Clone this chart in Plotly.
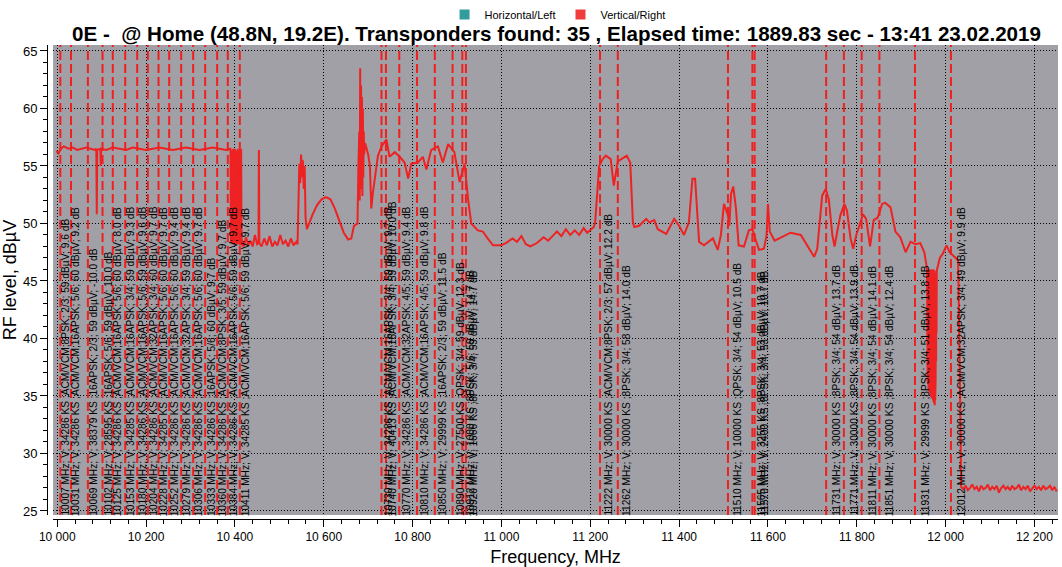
import plotly.graph_objects as go

FONT = "Liberation Sans"

# ---------------- spectrum (Vertical/Right) ----------------
flat_f = [9998, 10003, 10008, 10015, 10025, 10035, 10045, 10055, 10065, 10075, 10085, 10088, 10089, 10090,
          10097, 10098, 10099, 10110, 10125, 10140, 10155, 10170, 10185, 10200, 10215, 10230, 10245, 10260,
          10275, 10290, 10305, 10320, 10335, 10350, 10365, 10380, 10389]
flat_v = [56.3, 56.1, 56.5, 56.7, 56.5, 56.6, 56.4, 56.5, 56.6, 56.5, 56.4, 56.5, 50.8, 56.4,
          56.5, 55.0, 56.5, 56.4, 56.6, 56.5, 56.4, 56.6, 56.5, 56.4, 56.5, 56.6, 56.5, 56.4,
          56.5, 56.6, 56.5, 56.4, 56.5, 56.6, 56.5, 56.4, 56.5]

drop_f = [10390, 10391, 10392, 10393, 10394, 10395, 10396, 10397, 10398, 10399, 10400, 10401, 10402, 10403,
          10404, 10405, 10406, 10407, 10408, 10409, 10410, 10411, 10412, 10413, 10414, 10415, 10416, 10417, 10418]
drop_v = [56.5, 48.3, 56.4, 48.6, 55.5, 48.2, 56.5, 49.0, 54.0, 48.3, 56.5, 48.5, 56.3, 48.2,
          52.0, 48.7, 56.5, 48.2, 50.5, 48.4, 56.4, 48.1, 49.5, 48.3, 56.5, 48.1, 48.6, 48.0, 48.4]

low_f = [10420, 10425, 10430, 10435, 10440, 10445, 10450, 10453, 10454, 10455, 10460, 10466, 10472, 10478,
         10484, 10490, 10496, 10502, 10508, 10514, 10520, 10526, 10532, 10538, 10541]
low_v = [48.0, 48.8, 48.1, 48.5, 48.0, 49.0, 48.2, 48.3, 56.4, 48.3, 48.0, 48.7, 48.1, 48.9,
         48.0, 48.4, 48.1, 49.0, 48.2, 48.5, 48.0, 48.7, 48.1, 48.4, 48.2]

jump_f = [10543, 10545, 10547, 10549, 10551, 10553, 10555, 10557, 10559, 10562]
jump_v = [51.0, 55.2, 53.5, 56.0, 54.0, 55.5, 53.0, 55.0, 50.5, 49.5]

bump_f = [10565, 10575, 10585, 10595, 10605, 10615, 10625, 10635, 10645, 10655, 10662, 10668]
bump_v = [49.8, 50.8, 51.6, 52.1, 52.3, 52.1, 51.3, 50.2, 49.2, 48.6, 48.7, 49.8]

mid_f = [10676, 10678, 10680, 10681, 10682, 10683, 10684, 10685, 10686, 10687, 10688, 10689, 10690, 10691,
         10693, 10696, 10700, 10704, 10707, 10711, 10715, 10722, 10730, 10741, 10748, 10760, 10771, 10782,
         10790, 10797, 10812, 10823, 10831, 10842, 10857, 10868, 10880, 10894, 10906, 10917, 10925, 10932,
         10947, 10958, 10969, 10981, 10999]
mid_v = [50.0, 55.0, 58.0, 52.0, 63.5, 53.0, 62.0, 55.0, 61.0, 52.4, 60.0, 54.0, 58.0, 56.0,
         57.0, 56.5, 56.0, 55.0, 51.3, 52.8, 53.9, 55.9, 56.7, 57.3, 55.8, 56.2, 55.8, 55.3,
         53.9, 55.2, 55.3, 55.8, 54.7, 56.4, 56.7, 55.3, 56.9, 56.2, 53.6, 55.2, 52.1, 50.0,
         49.4, 49.3, 48.7, 48.1, 48.1]

gap_f = [11010, 11025, 11035, 11045, 11055, 11065, 11080, 11095, 11105, 11115, 11125, 11135, 11145, 11155,
         11165, 11175, 11185, 11193, 11208, 11211]
gap_v = [48.3, 48.7, 48.4, 48.9, 48.2, 48.0, 48.3, 48.8, 48.5, 48.9, 49.3, 48.9, 49.5, 49.0,
         49.4, 49.0, 49.6, 49.2, 49.7, 50.1]

ku_f = [11220, 11228, 11235, 11246, 11253, 11262, 11273, 11282, 11290, 11296, 11299, 11310, 11326, 11333,
        11344, 11352, 11371, 11389, 11400, 11411, 11422, 11430, 11436, 11445, 11456, 11476, 11487, 11494,
        11501, 11510, 11513, 11517, 11522, 11528, 11534, 11546, 11557, 11565, 11573, 11580, 11591, 11597,
        11600, 11604, 11615, 11630, 11651, 11674]
ku_v = [55.0, 55.6, 55.9, 55.6, 53.3, 55.4, 55.7, 55.9, 55.3, 50.1, 49.7, 49.8, 50.4, 50.1,
        50.3, 49.5, 49.1, 50.4, 49.8, 49.0, 50.1, 53.9, 53.9, 48.4, 48.1, 48.7, 47.7, 49.0,
        51.7, 50.7, 49.8, 52.6, 53.2, 51.3, 48.1, 48.0, 49.4, 49.5, 48.5, 47.7, 47.8, 49.0,
        51.7, 49.3, 48.5, 48.8, 49.2, 49.0]

hi_f = [11689, 11704, 11711, 11722, 11730, 11737, 11745, 11750, 11756, 11763, 11772, 11778, 11786, 11792,
        11799, 11806, 11814, 11821, 11830, 11838, 11847, 11857, 11864, 11876, 11887, 11898, 11910, 11921,
        11932, 11943, 11952]
hi_v = [48.0, 47.1, 47.8, 52.4, 53.0, 52.1, 49.0, 48.0, 49.3, 50.7, 51.7, 51.1, 48.7, 47.8,
        49.0, 49.8, 50.8, 50.4, 48.0, 50.3, 50.5, 51.7, 51.8, 51.4, 49.3, 48.8, 47.5, 48.4,
        48.2, 48.3, 47.5]

band_f = [11958.0, 11958.5, 11959.0, 11959.5, 11960.0, 11960.5, 11961.0, 11961.5, 11962.0, 11962.5,
          11963.0, 11963.5, 11964.0, 11964.5, 11965.0, 11965.5, 11966.0, 11966.5, 11967.0, 11967.5,
          11968.0, 11968.5, 11969.0, 11969.5, 11970.0, 11970.5, 11971.0, 11971.5, 11972.0, 11972.5,
          11973.0, 11973.5, 11974.0, 11974.5, 11975.0, 11975.5, 11976.0, 11976.5, 11977.0, 11977.5,
          11978.0, 11978.5, 11979.0, 11979.5, 11980.0]
band_v = [46.1, 37.0, 45.9, 36.2, 46.0, 35.8, 45.8, 35.5, 45.9, 35.6,
          46.0, 35.3, 45.8, 35.4, 45.9, 35.1, 46.0, 35.2, 45.8, 34.9,
          45.9, 35.0, 46.0, 34.8, 45.9, 34.9, 45.8, 34.6, 45.9, 34.7,
          46.0, 34.4, 45.8, 34.5, 45.9, 34.2, 45.7, 34.6, 44.0, 36.5,
          42.0, 38.0, 44.5, 40.5, 45.9]

tail_f = [11987, 11994, 12002, 12009, 12020, 12028, 12031, 12033,
          12035, 12040, 12045, 12050, 12055, 12060, 12065, 12070, 12075, 12080, 12085, 12090, 12095, 12100,
          12105, 12110, 12115, 12120, 12125, 12130, 12135, 12140, 12145, 12150, 12155, 12160, 12165, 12170,
          12175, 12180, 12185, 12190, 12195, 12200, 12205, 12210, 12215, 12220, 12225, 12230, 12235, 12240,
          12245, 12250]
tail_v = [47.0, 47.4, 48.1, 47.5, 47.1, 46.8, 40.0, 30.0,
          27.1, 26.9, 27.2, 26.8, 27.0, 27.3, 26.9, 27.1, 26.7, 27.2, 26.9, 27.0, 27.3, 26.8,
          27.1, 26.9, 27.2, 26.6, 27.0, 27.2, 26.9, 27.1, 26.8, 27.2, 26.9, 27.0, 27.3, 26.8,
          27.1, 26.9, 27.2, 26.7, 27.0, 27.2, 26.9, 27.1, 26.8, 27.2, 26.9, 27.0, 27.2, 26.8,
          27.1, 26.7]

freq = flat_f + drop_f + low_f + jump_f + bump_f + mid_f + gap_f + ku_f + hi_f + band_f + tail_f
level = flat_v + drop_v + low_v + jump_v + bump_v + mid_v + gap_v + ku_v + hi_v + band_v + tail_v

# ---------------- transponders ----------------
tp_freq = [10007, 10031, 10069, 10102, 10125, 10153, 10180, 10204, 10228, 10252, 10279, 10306, 10333,
           10360, 10384, 10411, 10730, 10740, 10770, 10810, 10850, 10890, 10912, 10920, 11222, 11262,
           11510, 11565, 11570, 11731, 11771, 11811, 11851, 11931, 12012]
tp_info = [
    "V; 34286 KS ;ACM/VCM;8PSK; 2/3; 59 dBµV; 9.6 dB",
    "V; 34286 KS ;ACM/VCM;16APSK; 5/6; 60 dBµV; 9.2 dB",
    "V; 38379 KS ;16APSK; 2/3; 59 dBµV; -10.0 dB",
    "V; 28595 KS ;16APSK; 5/6; 59 dBµV; 10.0 dB",
    "V; 34286 KS ;ACM/VCM;16APSK; 5/6; 60 dBµV; 8.0 dB",
    "V; 34285 KS ;ACM/VCM;16APSK; 3/4; 59 dBµV; 9.3 dB",
    "V; 34286 KS ;ACM/VCM;16APSK; 5/6; 59 dBµV; 9.6 dB",
    "V; 34286 KS ;ACM/VCM;32APSK; 3/4; 60 dBµV; 9.7 dB",
    "V; 34285 KS ;ACM/VCM;16APSK; 5/6; 60 dBµV; 9.7 dB",
    "V; 34286 KS ;ACM/VCM;16APSK; 5/6; 60 dBµV; 9.4 dB",
    "V; 34286 KS ;ACM/VCM;32APSK; 3/4; 59 dBµV; 9.4 dB",
    "V; 34286 KS ;ACM/VCM;16APSK; 5/6; 60 dBµV; 9.7 dB",
    "V; 34286 KS ;16APSK; 5/6; 60 dBµV; 9.7 dB",
    "V; 34286 KS ;ACM/VCM;8PSK; 3/5; 59 dBµV; 9.7 dB",
    "V; 34286 KS ;ACM/VCM;16APSK; 5/6; 59 dBµV; 9.7 dB",
    "V; 34285 KS ;ACM/VCM;16APSK; 5/6; 59 dBµV; 9.7 dB",
    "V; 34286 KS ;ACM/VCM;16APSK; 3/4; 59 dBµV; 9.7 dB",
    "V; 40413 KS ;ACM/VCM;16APSK; 3/4; 59 dBµV; 10.0 dB",
    "V; 34286 KS ;ACM/VCM;32APSK; 4/5; 59 dBµV; 9.4 dB",
    "V; 34286 KS ;ACM/VCM;16APSK; 4/5; 59 dBµV; 9.8 dB",
    "V; 29999 KS ;16APSK; 2/3; 59 dBµV; 11.5 dB",
    "V; 27500 KS ;QPSK; 3/4; 59 dBµV; 12.3 dB",
    "V; 1000 KS ;8PSK; 5/6; 59 dBµV; 14.7 dB",
    "V; 1666 KS ;8PSK; 3/4; 59 dBµV; 14.7 dB",
    "V; 30000 KS ;ACM/VCM;8PSK; 2/3; 57 dBµV; 12.2 dB",
    "V; 30000 KS ;8PSK; 3/4; 58 dBµV; 14.0 dB",
    "V; 10000 KS ;QPSK; 3/4; 54 dBµV; 10.5 dB",
    "V; 3255 KS ;8PSK; 3/4; 53 dBµV; 10.7 dB",
    "V; 2400 KS ;8PSK; 3/4; 53 dBµV; 10.7 dB",
    "V; 30000 KS ;8PSK; 3/4; 54 dBµV; 13.7 dB",
    "V; 30000 KS ;8PSK; 3/4; 54 dBµV; 13.9 dB",
    "V; 30000 KS ;8PSK; 3/4; 54 dBµV; 14.1 dB",
    "V; 30000 KS ;8PSK; 3/4; 54 dBµV; 12.4 dB",
    "V; 29999 KS ;8PSK; 3/4; 51 dBµV; 13.8 dB",
    "V; 30000 KS ;ACM/VCM;32APSK; 3/4; 49 dBµV; 9.9 dB",
]

x_ticks = [10000, 10200, 10400, 10600, 10800, 11000, 11200, 11400, 11600, 11800, 12000, 12200]
y_ticks = [25, 30, 35, 40, 45, 50, 55, 60, 65]

TITLE = "0E -  @ Home (48.8N, 19.2E). Transponders found: 35 , Elapsed time: 1889.83 sec - 13:41 23.02.2019"

RED = "#ee2222"
fig = go.Figure()
fig.add_trace(go.Scatter(x=freq, y=level, mode="lines", line=dict(color=RED, width=2),
                         showlegend=False, hoverinfo="skip"))
fig.add_trace(go.Scatter(x=[None], y=[None], mode="markers", name="Horizontal/Left",
                         marker=dict(symbol="square", size=10, color="#339c9c")))
fig.add_trace(go.Scatter(x=[None], y=[None], mode="markers", name="Vertical/Right",
                         marker=dict(symbol="square", size=10, color="#f03c3c")))

for f, info in zip(tp_freq, tp_info):
    fig.add_shape(type="line", xref="x", yref="y domain", x0=f, x1=f, y0=0, y1=1,
                  line=dict(color="#f02020", width=2, dash="9px,4px"))
    fig.add_annotation(x=f, y=0, xref="x", yref="y domain", text=f"{f} MHz; {info}",
                       textangle=-90, showarrow=False, xanchor="center", yanchor="bottom",
                       xshift=4.7 + (f - 10007) * 0.0031, yshift=-3,
                       font=dict(family=FONT, size=10.2, color="black"))

fig.update_layout(
    width=1062, height=567,
    margin=dict(l=45, r=4, t=45, b=45),
    paper_bgcolor="white", plot_bgcolor="#a0a0a6",
    separators=". ",
    font=dict(family=FONT, color="black"),
    title=dict(text=f"<b>{TITLE}</b>", x=0.524, xanchor="center", y=0.94, yanchor="middle",
               font=dict(family=FONT, size=20.6, color="black")),
    legend=dict(orientation="h", x=0.505, xanchor="center", y=1.0, yref="container", yanchor="top",
                font=dict(family=FONT, size=11), bgcolor="rgba(0,0,0,0)",
                itemwidth=30, tracegroupgap=0),
    xaxis=dict(domain=[0.006, 1], anchor="free", position=0, range=[9990.6, 12253],
               tickvals=x_ticks, tickformat=",d", ticks="outside", ticklen=7, tickcolor="black",
               showline=True, linecolor="black", linewidth=1, zeroline=False,
               showgrid=True, gridcolor="black", gridwidth=1, griddash="1px,2px",
               minor=dict(dtick=40, tick0=10000, ticks="outside", ticklen=4, tickcolor="black", showgrid=False),
               tickfont=dict(family=FONT, size=12),
               title=dict(text="Frequency, MHz", font=dict(family=FONT, size=18), standoff=6)),
    yaxis=dict(domain=[0.0084, 1], anchor="free", position=0, range=[24.65, 65.52],
               tickvals=y_ticks, ticks="outside", ticklen=7, tickcolor="black",
               showline=True, linecolor="black", linewidth=1, zeroline=False,
               showgrid=True, gridcolor="black", gridwidth=1, griddash="1px,2px",
               minor=dict(dtick=1, tick0=25, ticks="outside", ticklen=4, tickcolor="black", showgrid=False),
               tickfont=dict(family=FONT, size=13),
               title=dict(text="RF level, dBµV", font=dict(family=FONT, size=18), standoff=6)),
)

fig.write_html("out.html", config={"displayModeBar": False},
               post_script="document.body.style.margin='0';")
